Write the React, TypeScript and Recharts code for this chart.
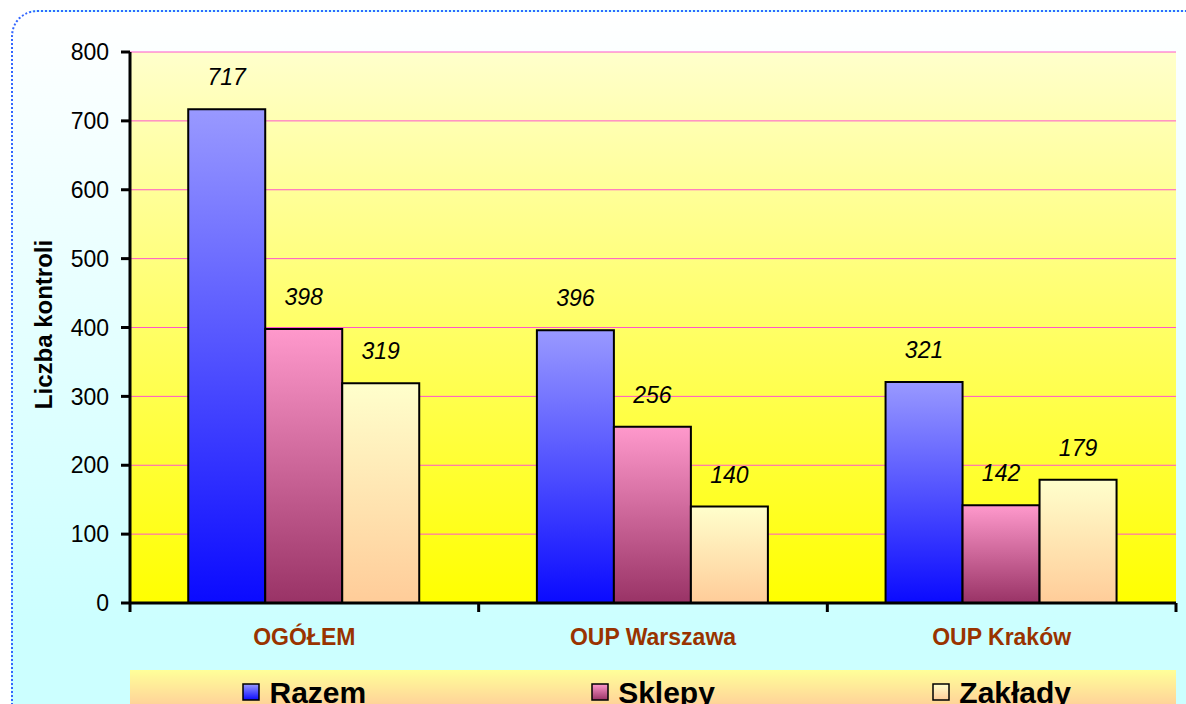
import React from "react"
import { BarChart, Bar, XAxis, YAxis, CartesianGrid, LabelList, Legend } from "recharts"

const categories = ["OGÓŁEM", "OUP Warszawa", "OUP Kraków"]
const razem = [717, 396, 321]
const sklepy = [398, 256, 142]
const zaklady = [319, 140, 179]
const yTicks = [0, 100, 200, 300, 400, 500, 600, 700, 800]

const SERIES = [
  { key: "razem", name: "Razem", grad: "gRazem", top: "#9999FF", bottom: "#0A0AFF" },
  { key: "sklepy", name: "Sklepy", grad: "gSklepy", top: "#FF99CC", bottom: "#993366" },
  { key: "zaklady", name: "Zakłady", grad: "gZaklady", top: "#FFFFCC", bottom: "#FFCC99" },
]

const data = categories.map((name, i) => ({
  name,
  razem: razem[i],
  sklepy: sklepy[i],
  zaklady: zaklady[i],
}))

const FONT = "Arial, 'Liberation Sans', sans-serif"
const X_TICK_MARGIN = 26
const EDGE_TICK = 9

// category label plus tick marks on the category boundaries (Excel style)
function CategoryTick(props: any) {
  const { x, y, payload, index, visibleTicksCount } = props
  const half = payload.offset || 0
  const axisY = y - X_TICK_MARGIN
  const isLast = index === visibleTicksCount - 1
  return (
    <g>
      <line x1={x - half} x2={x - half} y1={axisY} y2={axisY + EDGE_TICK} stroke="#000" strokeWidth={3} />
      {isLast && (
        <line x1={x + half} x2={x + half} y1={axisY} y2={axisY + EDGE_TICK} stroke="#000" strokeWidth={3} />
      )}
      <text
        x={x}
        y={y}
        dy="0.71em"
        textAnchor="middle"
        fill="#993300"
        fontSize={23}
        fontWeight="bold"
        fontFamily={FONT}
      >
        {payload.value}
      </text>
    </g>
  )
}

// custom legend: three equal columns inside a gradient band
function LegendBand() {
  return (
    <div
      style={{
        width: 1046,
        height: 40,
        background: "linear-gradient(to bottom, #FFFF99, #FFCC99)",
        display: "flex",
        fontFamily: FONT,
      }}
    >
      {SERIES.map((s) => (
        <div key={s.key} style={{ flex: 1, display: "flex", justifyContent: "center", paddingTop: 8 }}>
          <svg width={18} height={18} style={{ marginTop: 5, marginRight: 9 }}>
            <rect x={1} y={1} width={16} height={16} fill={`url(#${s.grad})`} stroke="#000" strokeWidth={1.5} />
          </svg>
          <span style={{ fontSize: 30, lineHeight: "30px", fontWeight: "bold", color: "#000" }}>{s.name}</span>
        </div>
      ))}
    </div>
  )
}

function YLabel({ viewBox }: any) {
  const x = viewBox.x + 52
  const y = viewBox.y + viewBox.height / 2 - 3
  return (
    <text
      x={x}
      y={y}
      transform={`rotate(-90 ${x} ${y})`}
      textAnchor="middle"
      fontFamily={FONT}
      fontSize={24}
      fontWeight="bold"
      fill="#000"
    >
      Liczba kontroli
    </text>
  )
}

export default function App() {
  return (
    <div
      style={{
        position: "absolute",
        left: 0,
        top: 0,
        width: 1186,
        height: 704,
        overflow: "hidden",
        background: "#fff",
      }}
    >
      <div
        style={{
          position: "absolute",
          left: 11,
          top: 10,
          width: 1200,
          height: 720,
          border: "2px dotted #3366FF",
          borderRadius: 26,
          background: "linear-gradient(to bottom, #FFFFFF 0%, #CCFFFF 85%, #CCFFFF 100%)",
        }}
      />
      <div style={{ position: "absolute", left: 0, top: 0 }}>
        <BarChart
          width={1186}
          height={704}
          data={data}
          margin={{ top: 52, right: 10, bottom: 99, left: 0 }}
          barCategoryGap="16.7%"
          barGap={0}
        >
          <defs>
            <linearGradient id="plotBg" x1="0" y1="0" x2="0" y2="1">
              <stop offset="0%" stopColor="#FFFFCC" />
              <stop offset="100%" stopColor="#FFFF00" />
            </linearGradient>
            {SERIES.map((s) => (
              <linearGradient key={s.grad} id={s.grad} x1="0" y1="0" x2="0" y2="1">
                <stop offset="0%" stopColor={s.top} />
                <stop offset="100%" stopColor={s.bottom} />
              </linearGradient>
            ))}
          </defs>
          <CartesianGrid vertical={false} stroke="#FF55CC" strokeWidth={1} fill="url(#plotBg)" fillOpacity={1} />
          <XAxis
            dataKey="name"
            height={2}
            interval={0}
            tickLine={false}
            tickSize={0}
            tickMargin={X_TICK_MARGIN}
            axisLine={{ stroke: "#000", strokeWidth: 3 }}
            tick={<CategoryTick />}
          />
          <YAxis
            width={130}
            domain={[0, 800]}
            ticks={yTicks}
            interval={0}
            tickSize={9}
            tickMargin={12}
            axisLine={{ stroke: "#000", strokeWidth: 3 }}
            tickLine={{ stroke: "#000", strokeWidth: 3 }}
            tick={{ fill: "#000", fontSize: 23, fontFamily: FONT }}
            label={<YLabel />}
          />
          <Legend
            layout="horizontal"
            verticalAlign="middle"
            align="center"
            wrapperStyle={{ left: 130, top: 670, width: 1046, height: 40 }}
            content={() => <LegendBand />}
          />
          {SERIES.map((s) => (
            <Bar
              key={s.key}
              dataKey={s.key}
              name={s.name}
              fill={`url(#${s.grad})`}
              stroke="#000"
              strokeWidth={2}
              isAnimationActive={false}
            >
              <LabelList
                dataKey={s.key}
                position="top"
                offset={24}
                fill="#000"
                fontSize={23}
                fontStyle="italic"
                fontFamily={FONT}
              />
            </Bar>
          ))}
        </BarChart>
      </div>
    </div>
  )
}
